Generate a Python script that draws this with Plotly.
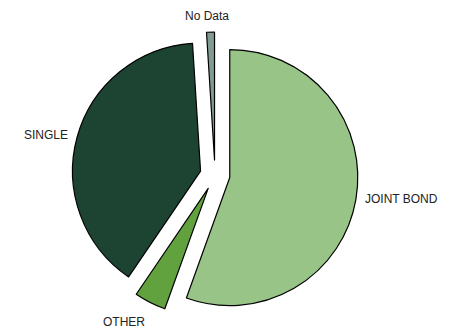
import plotly.graph_objects as go

labels = ["JOINT BOND", "OTHER", "SINGLE", "No Data"]
values = [55.5, 4.0, 39.5, 1.0]
colors = ["#98c587", "#62a23e", "#1d4433", "#809c90"]
pulls = [0.117, 0.117, 0.117, 0.117]

W, H = 449, 328
cx, cy, half = 215, 175, 143

fig = go.Figure(go.Pie(
    labels=labels,
    values=values,
    sort=False,
    direction="clockwise",
    rotation=0,
    pull=pulls,
    marker=dict(colors=colors, line=dict(color="#000000", width=1.2)),
    textinfo="none",
    hoverinfo="label+percent",
    showlegend=False,
    domain=dict(x=[(cx - half) / W, (cx + half) / W],
                y=[1 - (cy + half) / H, 1 - (cy - half) / H]),
))

# label placement (pixel positions of the outside labels)
label_pos = {
    "JOINT BOND": (363, 198.5, "left"),
    "OTHER": (123.5, 321.5, "center"),
    "SINGLE": (70, 134.5, "right"),
    "No Data": (207, 16, "center"),
}
for lab in labels:
    px, py, anc = label_pos[lab]
    fig.add_annotation(
        x=px / W, y=1 - py / H, xref="paper", yref="paper",
        text=lab, showarrow=False, xanchor=anc, yanchor="middle",
        font=dict(family="Liberation Sans, Arial, sans-serif", size=12, color="#222222"),
    )

fig.update_layout(
    width=W, height=H,
    margin=dict(l=0, r=0, t=0, b=0),
    paper_bgcolor="white",
    plot_bgcolor="white",
    showlegend=False,
)

fig.write_html("out.html")
